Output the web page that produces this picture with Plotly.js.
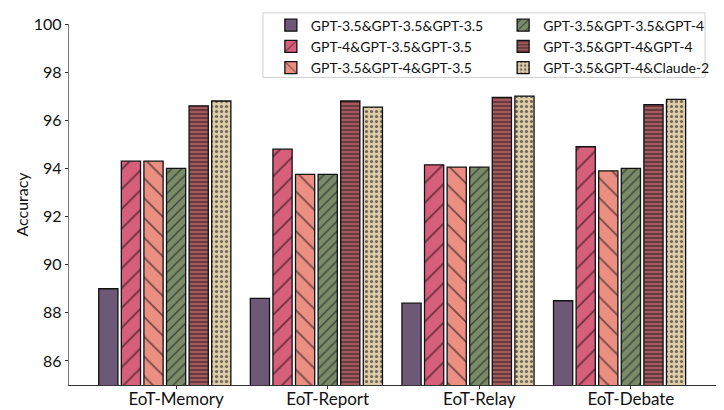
<!DOCTYPE html>
<html>
<head>
<meta charset="utf-8">
<script src="https://cdn.plot.ly/plotly-3.0.1.min.js"></script>
<style>html,body{margin:0;padding:0;background:#fff;}#chart{width:724px;height:410px;}</style>
</head>
<body>
<div id="chart"></div>
<script>
const categories = ["EoT-Memory", "EoT-Report", "EoT-Relay", "EoT-Debate"];
const seriesNames = [
  "GPT-3.5&GPT-3.5&GPT-3.5",
  "GPT-4&GPT-3.5&GPT-3.5",
  "GPT-3.5&GPT-4&GPT-3.5",
  "GPT-3.5&GPT-3.5&GPT-4",
  "GPT-3.5&GPT-4&GPT-4",
  "GPT-3.5&GPT-4&Claude-2"
];
const s1 = [89.0, 88.6, 88.4, 88.5];
const s2 = [94.3, 94.8, 94.15, 94.9];
const s3 = [94.3, 93.75, 94.05, 93.9];
const s4 = [94.0, 93.75, 94.05, 94.0];
const s5 = [96.6, 96.8, 96.95, 96.65];
const s6 = [96.8, 96.55, 97.0, 96.87];
const yTicks = [86, 88, 90, 92, 94, 96, 98, 100];

const seriesValues = [s1, s2, s3, s4, s5, s6];
const colors = ["#6d5876", "#d65f7b", "#eb8f82", "#7a8b6a", "#a15b5f", "#ddcca9"];
const patterns = [
  {shape: ""},
  {shape: "/", size: 14, solidity: 0.12},
  {shape: "\\", size: 14, solidity: 0.12},
  {shape: "/", size: 7, solidity: 0.2},
  {shape: "-", size: 4, solidity: 0.35},
  {shape: ".", size: 5, solidity: 0.3}
];

const bargap = 0.106;
const nSeries = seriesNames.length;
const slot = (1 - bargap) / nSeries;
const xIdx = categories.map((c, i) => i);
const tickvals = xIdx.map(i => i + slot / 2);

const font = "Lato, 'Open Sans', sans-serif";

const traces = seriesNames.map((name, k) => ({
  type: "bar",
  name: name,
  x: xIdx,
  y: seriesValues[k],
  legend: k < 3 ? "legend" : "legend2",
  marker: {
    color: colors[k],
    line: {color: "#111", width: 1.3},
    pattern: Object.assign({fgcolor: "#000", bgcolor: colors[k], fillmode: "overlay"}, patterns[k])
  },
  hoverinfo: "x+y"
}));

const layout = {
  width: 724, height: 410,
  margin: {l: 69, r: 8, t: 24, b: 25},
  paper_bgcolor: "#fff", plot_bgcolor: "#fff",
  barmode: "group",
  bargap: bargap,
  bargroupgap: 0.15,
  font: {family: font, size: 16, color: "#111"},
  xaxis: {
    range: [-0.632, 3.636],
    tickvals: tickvals,
    ticktext: categories,
    showgrid: false, zeroline: false,
    showline: true, linecolor: "#333", linewidth: 1.2,
    ticks: "outside", ticklen: 3, tickcolor: "#333",
    ticklabelstandoff: -5,
    tickfont: {family: font, size: 17, color: "#111"}
  },
  yaxis: {
    range: [85, 100],
    tickvals: yTicks,
    showgrid: false, zeroline: false,
    showline: true, linecolor: "#777", linewidth: 1.2,
    ticks: "outside", ticklen: 3, tickcolor: "#333",
    tickfont: {family: font, size: 16, color: "#111"},
    title: {text: "Accuracy", font: {family: font, size: 16, color: "#111"}, standoff: 1}
  },
  showlegend: true,
  legend: {
    x: 0.312, y: 1.04, xanchor: "left", yanchor: "top",
    bgcolor: "rgba(0,0,0,0)", borderwidth: 0,
    font: {family: font, size: 14, color: "#111"},
    tracegroupgap: 0
  },
  legend2: {
    x: 0.671, y: 1.04, xanchor: "left", yanchor: "top",
    bgcolor: "rgba(0,0,0,0)", borderwidth: 0,
    font: {family: font, size: 14, color: "#111"},
    tracegroupgap: 0
  },
  shapes: [{
    type: "rect", xref: "paper", yref: "paper",
    x0: 0.2998, x1: 0.983, y0: 0.852, y1: 1.031,
    line: {color: "#d0d0d0", width: 1},
    fillcolor: "rgba(255,255,255,0.8)",
    layer: "above"
  }]
};

Plotly.newPlot("chart", traces, layout, {staticPlot: true});
</script>
</body>
</html>
